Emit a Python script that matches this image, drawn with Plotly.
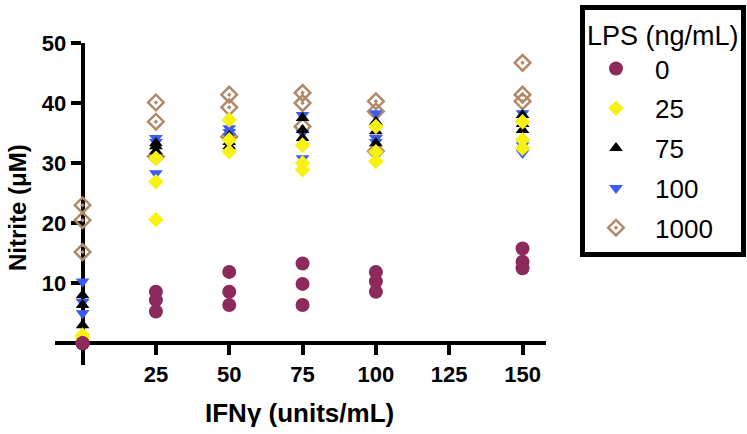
import plotly.graph_objects as go

# ---- data ----
ifn_doses = [0, 25, 50, 75, 100, 150]
x_ticks = [25, 50, 75, 100, 125, 150]
y_ticks = [10, 20, 30, 40, 50]

nitrite_lps_0 = [[0.0, 0.0, 0.0], [8.6, 7.2, 5.3], [11.9, 8.6, 6.4],
                 [13.3, 9.9, 6.4], [11.9, 10.3, 8.6], [15.8, 13.6, 12.5]]
nitrite_lps_25 = [[1.4, 1.0, 0.8], [30.8, 26.9, 20.6], [37.2, 33.9, 31.9],
                  [33.0, 30.0, 28.9], [36.1, 31.9, 30.3], [36.9, 33.9, 32.5]]
nitrite_lps_75 = [[8.0, 6.4, 3.0], [33.3, 32.8, 32.0], [34.5, 33.5, 32.8],
                  [37.5, 35.5, 34.2], [36.9, 35.3, 33.3], [38.0, 36.5, 35.5]]
nitrite_lps_100 = [[10.3, 6.9, 5.0], [34.2, 33.5, 28.3], [35.8, 35.2, 34.5],
                   [38.0, 35.0, 30.8], [38.3, 34.2, 33.5], [38.3, 33.0, 31.7]]
nitrite_lps_1000 = [[23.0, 20.5, 15.2], [40.1, 36.9, 31.1], [41.4, 39.3, 34.4],
                    [41.7, 40.0, 36.1], [40.3, 38.6, 32.0], [46.7, 41.4, 40.3]]

# drawn bottom-to-top; legend rank gives the legend order
series = [
    ("1000", 5, nitrite_lps_1000, dict(symbol="diamond-open-dot", size=12, color="#b08a68",
                                       line=dict(width=2.5, color="#b08a68"))),
    ("100", 4, nitrite_lps_100, dict(symbol="triangle-down", size=12, color="#3a5cf2")),
    ("75", 3, nitrite_lps_75, dict(symbol="triangle-up", size=12, color="#000000")),
    ("25", 2, nitrite_lps_25, dict(symbol="diamond", size=12, color="#f7f213")),
    ("0", 1, nitrite_lps_0, dict(symbol="circle", size=14, color="#8c2a5c")),
]

fig = go.Figure()
for name, rank, vals, mk in series:
    xs, ys = [], []
    for dose, reps in zip(ifn_doses, vals):
        for v in reps:
            xs.append(dose)
            ys.append(v)
    fig.add_trace(go.Scatter(x=xs, y=ys, mode="markers", name=name, marker=mk,
                             legendgroup=name, legendrank=rank, cliponaxis=False))

xr = [-9.4, 158.0]
yr = [-3.6, 50.0]
# paper spans y pixels 5..365, x pixels 55..546
PT, PB, PL, PR = 5, 365, 55, 546
ydom_top = (PB - 43) / (PB - PT)
FONT = "Liberation Sans, Arial, sans-serif"
tickfont = dict(family=FONT, size=22, color="black", weight="bold")


def px(x):
    return (x - PL) / (PR - PL)


def py(y):
    return (PB - y) / (PB - PT)


fig.update_layout(
    width=747, height=434,
    margin=dict(l=PL, r=747 - PR, t=PT, b=434 - PB, autoexpand=False),
    paper_bgcolor="white", plot_bgcolor="white",
    showlegend=True,
    xaxis=dict(range=xr, anchor="free",
               position=(0 - yr[0]) / (yr[1] - yr[0]) * ydom_top,
               showgrid=False, zeroline=False, showline=True, linewidth=4, linecolor="black",
               tickmode="array", tickvals=x_ticks, ticks="outside", ticklen=10, tickwidth=4,
               tickcolor="black", tickfont=tickfont, layer="below traces"),
    yaxis=dict(range=yr, domain=[0, ydom_top], anchor="free",
               position=(0 - xr[0]) / (xr[1] - xr[0]),
               showgrid=False, zeroline=False, showline=True, linewidth=4, linecolor="black",
               tickmode="array", tickvals=y_ticks, ticks="outside", ticklen=10, tickwidth=4,
               tickcolor="black", tickfont=tickfont, layer="below traces"),
    legend=dict(
        title=dict(text="LPS (ng/mL)", font=dict(family=FONT, size=27, color="black")),
        font=dict(family=FONT, size=26, color="black"),
        bordercolor="black", borderwidth=5, bgcolor="white",
        x=px(580), xanchor="left", y=1, yanchor="top",
        traceorder="grouped", tracegroupgap=3,
        indentation=-8, itemwidth=68,
    ),
    annotations=[
        dict(text="Nitrite (μM)", textangle=-90, xref="paper", yref="paper",
             x=px(17), y=py(208), xanchor="center", yanchor="middle",
             showarrow=False,
             font=dict(family=FONT, size=24, color="black", weight="bold")),
        dict(text="IFNγ (units/mL)", xref="paper", yref="paper",
             x=px(299), y=py(413), xanchor="center", yanchor="middle",
             showarrow=False,
             font=dict(family=FONT, size=26, color="black", weight="bold")),
    ],
)

fig.write_html("out.html", config={"displayModeBar": False},
               post_script="document.body.style.margin='0px';")
